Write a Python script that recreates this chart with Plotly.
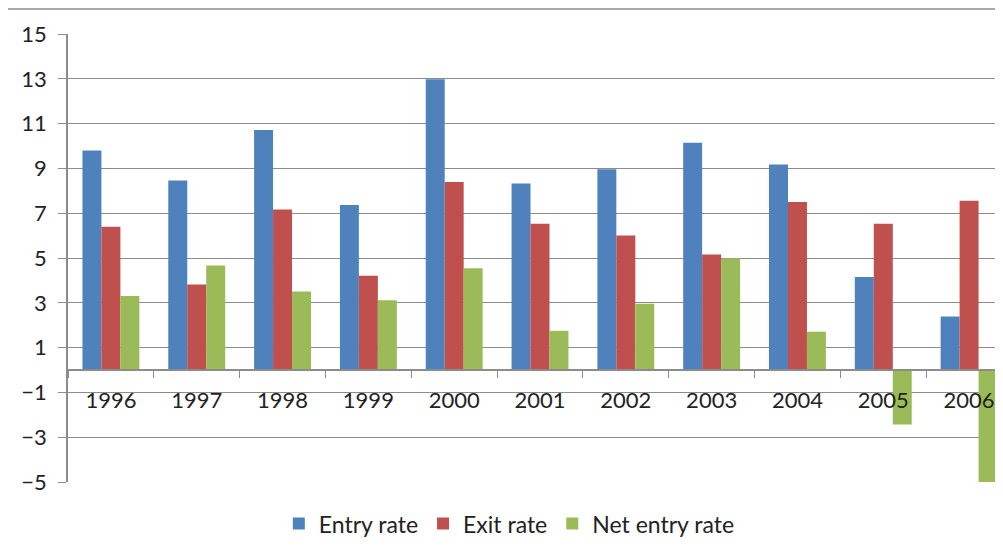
import plotly.graph_objects as go

years = ["1996", "1997", "1998", "1999", "2000", "2001", "2002", "2003", "2004", "2005", "2006"]
entry_rate = [9.8, 8.46, 10.71, 7.37, 12.98, 8.33, 8.96, 10.15, 9.17, 4.15, 2.39]
exit_rate = [6.40, 3.82, 7.16, 4.21, 8.39, 6.53, 6.01, 5.16, 7.50, 6.53, 7.56]
net_entry_rate = [3.30, 4.66, 3.51, 3.11, 4.54, 1.75, 2.96, 4.98, 1.71, -2.43, -5.17]
y_ticks = [-5, -3, -1, 1, 3, 5, 7, 9, 11, 13, 15]

FONT = "Lato, Carlito, Calibri, sans-serif"
GRID = "#8c8c8c"
TXT = "#222222"

fig = go.Figure()
fig.add_trace(go.Bar(x=years, y=entry_rate, name="Entry rate", marker=dict(color="#4F81BD", line_width=0)))
fig.add_trace(go.Bar(x=years, y=exit_rate, name="Exit rate", marker=dict(color="#C0504D", line_width=0)))
fig.add_trace(go.Bar(x=years, y=net_entry_rate, name="Net entry rate", marker=dict(color="#9BBB59", line_width=0)))

# page body has an 8px margin, so the figure is 995x539 and sits at (8, 8)
fig.update_layout(
    width=995, height=539,
    margin=dict(l=60, r=0, t=26, b=65),
    paper_bgcolor="white", plot_bgcolor="white",
    barmode="group", bargap=0.337, bargroupgap=0,
    font=dict(family=FONT, size=22, color=TXT),
    showlegend=True,
    legend=dict(orientation="h", x=0.472, xanchor="center", y=-0.093, yanchor="middle",
                font=dict(size=23, color=TXT), itemwidth=30, tracegroupgap=0),
    xaxis=dict(
        type="category", range=[-0.5, 10.395],
        anchor="free", position=0.25,
        showline=True, linecolor=GRID, linewidth=1.5,
        ticks="outside", tickson="boundaries", ticklen=7, tickcolor=GRID,
        showgrid=False, ticklabelstandoff=11,
        tickfont=dict(size=22, color=TXT),
        layer="above traces",
    ),
    yaxis=dict(
        range=[-5, 15], tickvals=y_ticks,
        showline=True, linecolor=GRID, linewidth=1.5,
        ticks="outside", ticklen=8, tickcolor=GRID,
        showgrid=True, gridcolor=GRID, gridwidth=1,
        zeroline=False, ticklabelstandoff=7,
        tickfont=dict(size=22, color=TXT),
    ),
)

fig.add_shape(type="line", xref="paper", yref="paper", x0=-0.07, x1=1.0, y0=1.056, y1=1.056,
              line=dict(color="#8c8c8c", width=1.5))

fig.write_html("out.html")
